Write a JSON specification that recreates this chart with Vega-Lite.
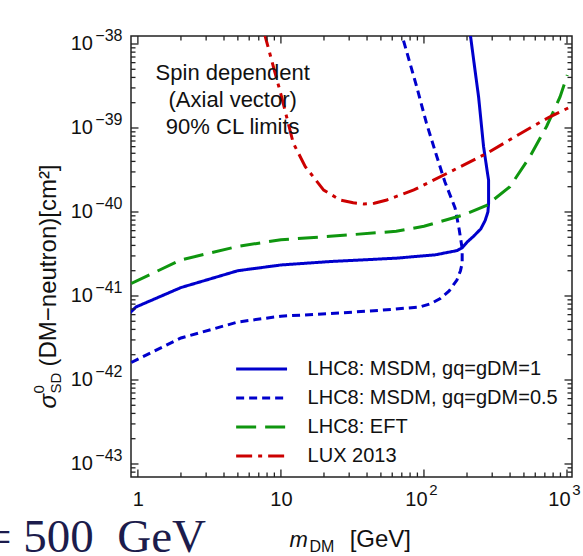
{
  "$schema": "https://vega.github.io/schema/vega-lite/v6.json",
  "width": 441,
  "height": 441,
  "autosize": "none",
  "padding": {"left": 131, "top": 36, "right": 11, "bottom": 79},
  "background": "white",
  "title": {
    "text": "= 500\u2002GeV",
    "orient": "bottom",
    "anchor": "start",
    "frame": "group",
    "font": "Liberation Serif",
    "fontSize": 47,
    "fontWeight": "normal",
    "color": "#1c1c4c",
    "offset": 0,
    "dx": -146,
    "dy": -39
  },
  "config": {
    "view": {"stroke": "#222222", "strokeWidth": 1.5},
    "font": "Liberation Sans",
    "axis": {
      "grid": false,
      "domain": false,
      "labelFont": "Liberation Sans",
      "titleFont": "Liberation Sans",
      "labelColor": "#111111",
      "titleColor": "#111111",
      "titleFontWeight": "normal",
      "labelFlush": false,
      "labelOverlap": false,
      "labelBound": false
    }
  },
  "datasets": {
    "curves": [
      {"k": "LHC8: MSDM, gq=gDM=1", "i": 0, "m": 0.88, "s": 6.3e-42},
      {"k": "LHC8: MSDM, gq=gDM=1", "i": 1, "m": 0.97, "s": 7.4e-42},
      {"k": "LHC8: MSDM, gq=gDM=1", "i": 2, "m": 2.0, "s": 1.26e-41},
      {"k": "LHC8: MSDM, gq=gDM=1", "i": 3, "m": 5.0, "s": 2.0e-41},
      {"k": "LHC8: MSDM, gq=gDM=1", "i": 4, "m": 10, "s": 2.34e-41},
      {"k": "LHC8: MSDM, gq=gDM=1", "i": 5, "m": 22, "s": 2.57e-41},
      {"k": "LHC8: MSDM, gq=gDM=1", "i": 6, "m": 64, "s": 2.82e-41},
      {"k": "LHC8: MSDM, gq=gDM=1", "i": 7, "m": 120, "s": 3.09e-41},
      {"k": "LHC8: MSDM, gq=gDM=1", "i": 8, "m": 170, "s": 3.47e-41},
      {"k": "LHC8: MSDM, gq=gDM=1", "i": 9, "m": 184, "s": 3.72e-41},
      {"k": "LHC8: MSDM, gq=gDM=1", "i": 10, "m": 200, "s": 4.37e-41},
      {"k": "LHC8: MSDM, gq=gDM=1", "i": 11, "m": 222, "s": 5.13e-41},
      {"k": "LHC8: MSDM, gq=gDM=1", "i": 12, "m": 250, "s": 6.31e-41},
      {"k": "LHC8: MSDM, gq=gDM=1", "i": 13, "m": 268, "s": 7.94e-41},
      {"k": "LHC8: MSDM, gq=gDM=1", "i": 14, "m": 280, "s": 1.0e-40},
      {"k": "LHC8: MSDM, gq=gDM=1", "i": 15, "m": 283, "s": 1.26e-40},
      {"k": "LHC8: MSDM, gq=gDM=1", "i": 16, "m": 283, "s": 2.4e-40},
      {"k": "LHC8: MSDM, gq=gDM=1", "i": 17, "m": 276, "s": 3.16e-40},
      {"k": "LHC8: MSDM, gq=gDM=1", "i": 18, "m": 261, "s": 6.03e-40},
      {"k": "LHC8: MSDM, gq=gDM=1", "i": 19, "m": 241, "s": 2.34e-39},
      {"k": "LHC8: MSDM, gq=gDM=1", "i": 20, "m": 225, "s": 5.62e-39},
      {"k": "LHC8: MSDM, gq=gDM=1", "i": 21, "m": 211, "s": 1.29e-38},
      {"k": "LHC8: MSDM, gq=gDM=0.5", "i": 0, "m": 0.9, "s": 1.62e-42},
      {"k": "LHC8: MSDM, gq=gDM=0.5", "i": 1, "m": 2.0, "s": 3.16e-42},
      {"k": "LHC8: MSDM, gq=gDM=0.5", "i": 2, "m": 5.0, "s": 4.9e-42},
      {"k": "LHC8: MSDM, gq=gDM=0.5", "i": 3, "m": 10, "s": 5.75e-42},
      {"k": "LHC8: MSDM, gq=gDM=0.5", "i": 4, "m": 22, "s": 6.17e-42},
      {"k": "LHC8: MSDM, gq=gDM=0.5", "i": 5, "m": 50, "s": 6.76e-42},
      {"k": "LHC8: MSDM, gq=gDM=0.5", "i": 6, "m": 94, "s": 7.41e-42},
      {"k": "LHC8: MSDM, gq=gDM=0.5", "i": 7, "m": 112, "s": 8.13e-42},
      {"k": "LHC8: MSDM, gq=gDM=0.5", "i": 8, "m": 130, "s": 9.33e-42},
      {"k": "LHC8: MSDM, gq=gDM=0.5", "i": 9, "m": 150, "s": 1.15e-41},
      {"k": "LHC8: MSDM, gq=gDM=0.5", "i": 10, "m": 170, "s": 1.55e-41},
      {"k": "LHC8: MSDM, gq=gDM=0.5", "i": 11, "m": 180, "s": 2.0e-41},
      {"k": "LHC8: MSDM, gq=gDM=0.5", "i": 12, "m": 185, "s": 2.45e-41},
      {"k": "LHC8: MSDM, gq=gDM=0.5", "i": 13, "m": 185, "s": 3.16e-41},
      {"k": "LHC8: MSDM, gq=gDM=0.5", "i": 14, "m": 184, "s": 3.89e-41},
      {"k": "LHC8: MSDM, gq=gDM=0.5", "i": 15, "m": 176, "s": 6.31e-41},
      {"k": "LHC8: MSDM, gq=gDM=0.5", "i": 16, "m": 165, "s": 1.12e-40},
      {"k": "LHC8: MSDM, gq=gDM=0.5", "i": 17, "m": 140, "s": 2.29e-40},
      {"k": "LHC8: MSDM, gq=gDM=0.5", "i": 18, "m": 123, "s": 4.57e-40},
      {"k": "LHC8: MSDM, gq=gDM=0.5", "i": 19, "m": 104, "s": 1.15e-39},
      {"k": "LHC8: MSDM, gq=gDM=0.5", "i": 20, "m": 89, "s": 3.09e-39},
      {"k": "LHC8: MSDM, gq=gDM=0.5", "i": 21, "m": 70, "s": 1.29e-38},
      {"k": "LHC8: EFT", "i": 0, "m": 0.9, "s": 1.41e-41},
      {"k": "LHC8: EFT", "i": 1, "m": 2.0, "s": 2.69e-41},
      {"k": "LHC8: EFT", "i": 2, "m": 5.0, "s": 3.89e-41},
      {"k": "LHC8: EFT", "i": 3, "m": 10, "s": 4.68e-41},
      {"k": "LHC8: EFT", "i": 4, "m": 22, "s": 5.13e-41},
      {"k": "LHC8: EFT", "i": 5, "m": 64, "s": 5.89e-41},
      {"k": "LHC8: EFT", "i": 6, "m": 100, "s": 6.76e-41},
      {"k": "LHC8: EFT", "i": 7, "m": 129, "s": 7.67e-41},
      {"k": "LHC8: EFT", "i": 8, "m": 188, "s": 9.2e-41},
      {"k": "LHC8: EFT", "i": 9, "m": 274, "s": 1.2e-40},
      {"k": "LHC8: EFT", "i": 10, "m": 399, "s": 2.0e-40},
      {"k": "LHC8: EFT", "i": 11, "m": 551, "s": 4.57e-40},
      {"k": "LHC8: EFT", "i": 12, "m": 721, "s": 1.05e-39},
      {"k": "LHC8: EFT", "i": 13, "m": 894, "s": 2.34e-39},
      {"k": "LHC8: EFT", "i": 14, "m": 1005, "s": 4.27e-39},
      {"k": "LUX 2013", "i": 0, "m": 7.6, "s": 1.41e-38},
      {"k": "LUX 2013", "i": 1, "m": 8.6, "s": 6.46e-39},
      {"k": "LUX 2013", "i": 2, "m": 10, "s": 2.51e-39},
      {"k": "LUX 2013", "i": 3, "m": 12.2, "s": 6.61e-40},
      {"k": "LUX 2013", "i": 4, "m": 14.8, "s": 3.47e-40},
      {"k": "LUX 2013", "i": 5, "m": 19.9, "s": 1.82e-40},
      {"k": "LUX 2013", "i": 6, "m": 26, "s": 1.39e-40},
      {"k": "LUX 2013", "i": 7, "m": 32, "s": 1.29e-40},
      {"k": "LUX 2013", "i": 8, "m": 38, "s": 1.245e-40},
      {"k": "LUX 2013", "i": 9, "m": 45, "s": 1.27e-40},
      {"k": "LUX 2013", "i": 10, "m": 55, "s": 1.39e-40},
      {"k": "LUX 2013", "i": 11, "m": 85, "s": 1.83e-40},
      {"k": "LUX 2013", "i": 12, "m": 145, "s": 2.88e-40},
      {"k": "LUX 2013", "i": 13, "m": 276, "s": 5.01e-40},
      {"k": "LUX 2013", "i": 14, "m": 525, "s": 9.55e-40},
      {"k": "LUX 2013", "i": 15, "m": 760, "s": 1.36e-39},
      {"k": "LUX 2013", "i": 16, "m": 1084, "s": 1.82e-39}
    ],
    "note": [
      {"m": 4.6, "s": 4.52e-39, "t": "Spin dependent\n(Axial vector)\n90% CL limits"}
    ],
    "xt": [
      {"v": 1}, {"v": 2}, {"v": 3}, {"v": 4}, {"v": 5}, {"v": 6}, {"v": 7}, {"v": 8}, {"v": 9},
      {"v": 10}, {"v": 20}, {"v": 30}, {"v": 40}, {"v": 50}, {"v": 60}, {"v": 70}, {"v": 80}, {"v": 90},
      {"v": 100}, {"v": 200}, {"v": 300}, {"v": 400}, {"v": 500}, {"v": 600}, {"v": 700}, {"v": 800}, {"v": 900},
      {"v": 1000}
    ],
    "yt": [
      {"v": 8e-44}, {"v": 9e-44},
      {"v": 1e-43}, {"v": 2e-43}, {"v": 3e-43}, {"v": 4e-43}, {"v": 5e-43}, {"v": 6e-43}, {"v": 7e-43}, {"v": 8e-43}, {"v": 9e-43},
      {"v": 1e-42}, {"v": 2e-42}, {"v": 3e-42}, {"v": 4e-42}, {"v": 5e-42}, {"v": 6e-42}, {"v": 7e-42}, {"v": 8e-42}, {"v": 9e-42},
      {"v": 1e-41}, {"v": 2e-41}, {"v": 3e-41}, {"v": 4e-41}, {"v": 5e-41}, {"v": 6e-41}, {"v": 7e-41}, {"v": 8e-41}, {"v": 9e-41},
      {"v": 1e-40}, {"v": 2e-40}, {"v": 3e-40}, {"v": 4e-40}, {"v": 5e-40}, {"v": 6e-40}, {"v": 7e-40}, {"v": 8e-40}, {"v": 9e-40},
      {"v": 1e-39}, {"v": 2e-39}, {"v": 3e-39}, {"v": 4e-39}, {"v": 5e-39}, {"v": 6e-39}, {"v": 7e-39}, {"v": 8e-39}, {"v": 9e-39},
      {"v": 1e-38}
    ]
  },
  "layer": [
    {
      "data": {"name": "curves"},
      "mark": {"type": "line", "strokeWidth": 3, "clip": true},
      "encoding": {
        "x": {
          "field": "m", "type": "quantitative",
          "scale": {"type": "log", "domain": [0.895, 1084], "nice": false},
          "axis": {
            "orient": "bottom",
            "values": [1, 10, 100, 1000],
            "labelExpr": "datum.value < 5 ? '1' : '10'",
            "ticks": false,
            "labelFontSize": 20,
            "labelPadding": 12,
            "labelOffset": {"condition": {"test": "datum.value >= 100", "value": -8}, "value": 0},
            "title": "m",
            "titleFontStyle": "italic",
            "titleFontSize": 22,
            "titleX": 158,
            "titleY": 69,
            "titleAlign": "left",
            "titleBaseline": "alphabetic"
          }
        },
        "y": {
          "field": "s", "type": "quantitative",
          "scale": {"type": "log", "domain": [7.0e-44, 1.245e-38], "nice": false},
          "axis": {
            "orient": "left",
            "values": [1e-43, 1e-42, 1e-41, 1e-40, 1e-39, 1e-38],
            "labelExpr": "'10'",
            "ticks": false,
            "labelFontSize": 20,
            "labelPadding": 38.5,
            "labelBaseline": "middle",
            "title": "σ",
            "titleFontStyle": "italic",
            "titleFontSize": 24,
            "titleAngle": -90,
            "titleX": -76,
            "titleY": 372,
            "titleAlign": "left",
            "titleBaseline": "alphabetic"
          }
        },
        "color": {
          "field": "k", "type": "nominal",
          "scale": {
            "domain": ["LHC8: MSDM, gq=gDM=1", "LHC8: MSDM, gq=gDM=0.5", "LHC8: EFT", "LUX 2013"],
            "range": ["#0000cc", "#0000cc", "#0f960f", "#cc0000"]
          },
          "legend": {
            "orient": "none", "legendX": 120.6, "legendY": 323, "title": null,
            "symbolType": "M-4,0L4,0", "symbolSize": 162, "symbolStrokeWidth": 3,
            "labelFontSize": 20, "labelFont": "Liberation Sans", "labelColor": "#111111",
            "labelOffset": 36, "rowPadding": 9, "padding": 0, "labelLimit": 400
          }
        },
        "strokeDash": {
          "field": "k", "type": "nominal",
          "scale": {
            "domain": ["LHC8: MSDM, gq=gDM=1", "LHC8: MSDM, gq=gDM=0.5", "LHC8: EFT", "LUX 2013"],
            "range": [[1, 0], [8, 5], [20, 9], [16, 6, 4, 6]]
          },
          "legend": {
            "orient": "none", "legendX": 120.6, "legendY": 323, "title": null,
            "symbolType": "M-4,0L4,0", "symbolSize": 162, "symbolStrokeWidth": 3,
            "labelFontSize": 20, "labelFont": "Liberation Sans", "labelColor": "#111111",
            "labelOffset": 36, "rowPadding": 9, "padding": 0, "labelLimit": 400
          }
        },
        "order": {"field": "i", "type": "quantitative"}
      }
    },
    {
      "data": {"name": "curves"},
      "mark": {"type": "point", "opacity": 0},
      "encoding": {
        "x": {
          "field": "m", "type": "quantitative",
          "axis": {
            "orient": "bottom",
            "values": [100, 1000],
            "labelExpr": "datum.value < 500 ? '2' : '3'",
            "ticks": false,
            "labelFontSize": 15,
            "labelPadding": 5,
            "labelOffset": 9,
            "title": "DM",
            "titleFontSize": 16,
            "titleX": 178,
            "titleY": 74,
            "titleAlign": "left",
            "titleBaseline": "alphabetic"
          }
        },
        "y": {
          "field": "s", "type": "quantitative",
          "axis": {
            "orient": "left",
            "values": [1e-43, 1e-42, 1e-41, 1e-40, 1e-39, 1e-38],
            "labelExpr": "'−' + format(-log(datum.value) / LN10, '.0f')",
            "ticks": false,
            "labelFontSize": 16,
            "labelPadding": 9,
            "labelOffset": -8,
            "labelBaseline": "middle",
            "title": "(DM−neutron)[cm²]",
            "titleFontSize": 24,
            "titleAngle": -90,
            "titleX": -76,
            "titleY": 330,
            "titleAlign": "left",
            "titleBaseline": "alphabetic"
          }
        }
      }
    },
    {
      "data": {"name": "xt"},
      "mark": {"type": "tick", "orient": "vertical", "clip": true, "thickness": 1.3, "color": "#222222", "opacity": 1},
      "encoding": {
        "x": {"field": "v", "type": "quantitative", "axis": null},
        "y": {"datum": 7.0e-44, "type": "quantitative", "axis": null},
        "size": {"condition": {"test": "abs(log(datum.v)/LN10 - round(log(datum.v)/LN10)) < 0.001", "value": 15}, "value": 9}
      }
    },
    {
      "data": {"name": "xt"},
      "mark": {"type": "tick", "orient": "vertical", "clip": true, "thickness": 1.3, "color": "#222222", "opacity": 1},
      "encoding": {
        "x": {"field": "v", "type": "quantitative", "axis": null},
        "y": {"datum": 1.245e-38, "type": "quantitative", "axis": null},
        "size": {"condition": {"test": "abs(log(datum.v)/LN10 - round(log(datum.v)/LN10)) < 0.001", "value": 15}, "value": 9}
      }
    },
    {
      "data": {"name": "yt"},
      "mark": {"type": "tick", "orient": "horizontal", "clip": true, "thickness": 1.3, "color": "#222222", "opacity": 1},
      "encoding": {
        "y": {"field": "v", "type": "quantitative", "axis": null},
        "x": {"datum": 0.895, "type": "quantitative", "axis": null},
        "size": {"condition": {"test": "abs(log(datum.v)/LN10 - round(log(datum.v)/LN10)) < 0.001", "value": 15}, "value": 9}
      }
    },
    {
      "data": {"name": "yt"},
      "mark": {"type": "tick", "orient": "horizontal", "clip": true, "thickness": 1.3, "color": "#222222", "opacity": 1},
      "encoding": {
        "y": {"field": "v", "type": "quantitative", "axis": null},
        "x": {"datum": 1084, "type": "quantitative", "axis": null},
        "size": {"condition": {"test": "abs(log(datum.v)/LN10 - round(log(datum.v)/LN10)) < 0.001", "value": 15}, "value": 9}
      }
    },
    {
      "data": {"name": "note"},
      "mark": {"type": "text", "fontSize": 22, "font": "Liberation Sans", "color": "#111111", "align": "center", "baseline": "middle", "lineBreak": "\n", "lineHeight": 27},
      "encoding": {
        "x": {
          "field": "m", "type": "quantitative",
          "axis": {
            "orient": "bottom",
            "labels": false,
            "ticks": false,
            "values": [],
            "title": "[GeV]",
            "titleFontSize": 24,
            "titleX": 279.5,
            "titleY": 69,
            "titleAlign": "right",
            "titleBaseline": "alphabetic"
          }
        },
        "y": {
          "field": "s", "type": "quantitative",
          "axis": {
            "orient": "left",
            "labels": false,
            "ticks": false,
            "values": [],
            "title": "SD",
            "titleFontSize": 15,
            "titleAngle": -90,
            "titleX": -71,
            "titleY": 357,
            "titleAlign": "left",
            "titleBaseline": "alphabetic"
          }
        },
        "text": {"field": "t"}
      }
    },
    {
      "data": {"name": "note"},
      "mark": {"type": "point", "opacity": 0},
      "encoding": {
        "x": {"field": "m", "type": "quantitative", "axis": null},
        "y": {
          "field": "s", "type": "quantitative",
          "axis": {
            "orient": "left",
            "labels": false,
            "ticks": false,
            "values": [],
            "title": "0",
            "titleFontSize": 15,
            "titleAngle": -90,
            "titleX": -88,
            "titleY": 357,
            "titleAlign": "left",
            "titleBaseline": "alphabetic"
          }
        }
      }
    }
  ],
  "resolve": {"axis": {"x": "independent", "y": "independent"}}
}
